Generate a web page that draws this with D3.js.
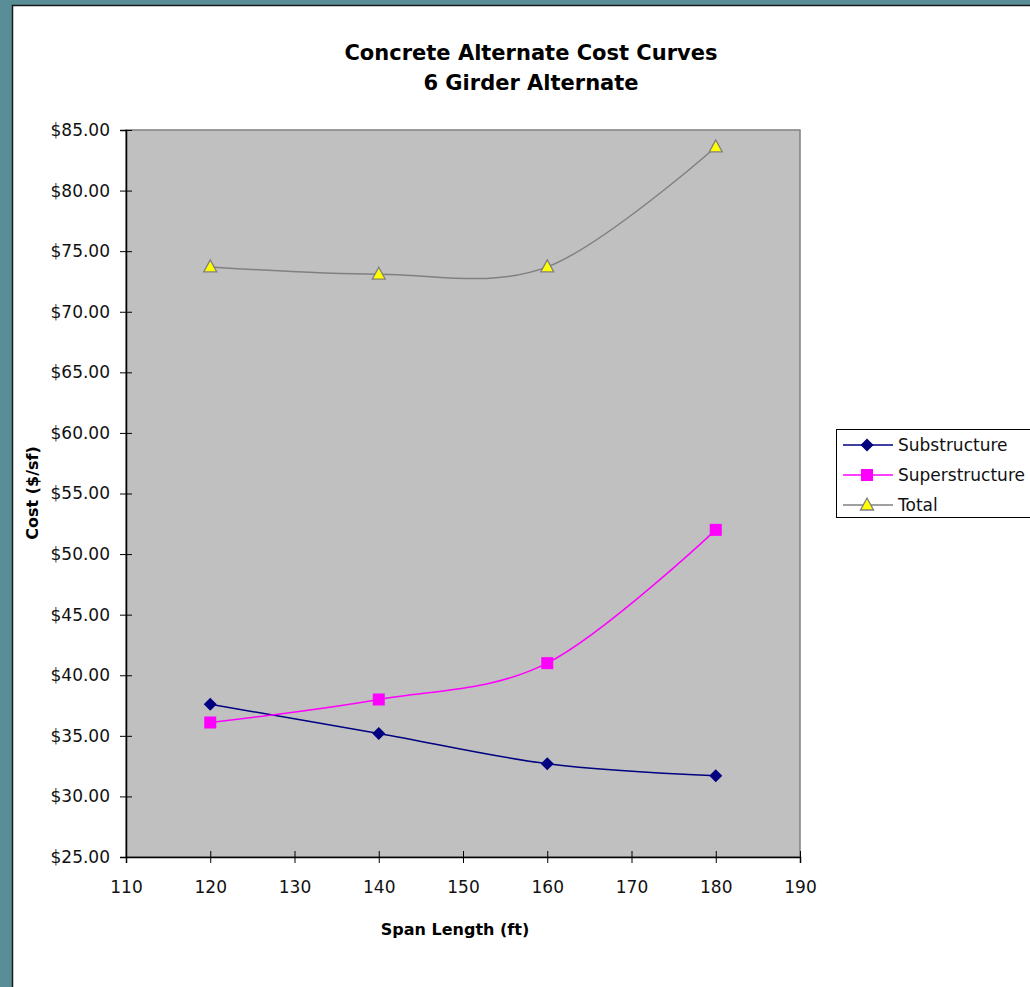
<!DOCTYPE html>
<html><head><meta charset="utf-8">
<script src="https://cdn.jsdelivr.net/npm/d3@7"></script>
<style>body{margin:0;padding:0;background:#5a8e97;overflow:hidden}svg{display:block}</style>
</head><body>
<script>
const spans = [120, 140, 160, 180];
const substructure = [37.6, 35.2, 32.7, 31.7];
const superstructure = [36.1, 38.0, 41.0, 52.0];
const total = [73.7, 73.1, 73.7, 83.6];
const xTicks = [110, 120, 130, 140, 150, 160, 170, 180, 190];
const yTicks = [25, 30, 35, 40, 45, 50, 55, 60, 65, 70, 75, 80, 85];
const seriesNames = ["Substructure", "Superstructure", "Total"];

const W = 1030, H = 987;
const font = "DejaVu Sans, Verdana, sans-serif";
const svg = d3.select("body").append("svg").attr("width", W).attr("height", H);

// teal frame
svg.append("rect").attr("x",0).attr("y",0).attr("width",W).attr("height",H).attr("fill","#5a8e97");
svg.append("rect").attr("x",12.5).attr("y",5.5).attr("width",W).attr("height",H).attr("fill","#fff").attr("stroke","#1a1a1a").attr("stroke-width",1.5);

const x = d3.scaleLinear().domain([110,190]).range([126,800]);
const y = d3.scaleLinear().domain([25,85]).range([857,130]);

svg.append("rect").attr("x",126).attr("y",130).attr("width",674).attr("height",727)
  .attr("fill","#c0c0c0").attr("stroke","#808080").attr("stroke-width",1.5);

// axes
const gx = svg.append("g").attr("transform","translate(0,857)")
  .call(d3.axisBottom(x).tickValues(xTicks).tickSize(6).tickPadding(18).tickFormat(d3.format("d")));
const gy = svg.append("g").attr("transform","translate(126,0)")
  .call(d3.axisLeft(y).tickValues(yTicks).tickSize(6).tickPadding(10).tickFormat(d=>"$"+d3.format(".2f")(d)));
[gx,gy].forEach(g=>{
  g.select(".domain").attr("stroke","#000").attr("stroke-width",1.5);
  g.selectAll(".tick line").attr("stroke","#000");
  g.selectAll("text").attr("font-family",font).attr("font-size",17).attr("fill","#111");
});
gx.selectAll(".tick line").attr("y1",-6);
gy.selectAll(".tick line").attr("x1",6);

const series = [
  {name: seriesNames[0], vals: substructure, color: "#000080", marker: "diamond"},
  {name: seriesNames[1], vals: superstructure, color: "#ff00ff", marker: "square"},
  {name: seriesNames[2], vals: total, color: "#808080", marker: "triangle"}
];
const line = d3.line().x(d=>x(d[0])).y(d=>y(d[1])).curve(d3.curveCatmullRom.alpha(0));

function diamondPath(cx,cy,r){return `M${cx},${cy-r}L${cx+r},${cy}L${cx},${cy+r}L${cx-r},${cy}Z`;}
function drawMarker(g, type, cx, cy){
  if(type==="diamond"){
    g.append("path").attr("d",diamondPath(cx,cy,6.5)).attr("fill","#000080");
  } else if(type==="square"){
    g.append("rect").attr("x",cx-6).attr("y",cy-6).attr("width",12).attr("height",12).attr("fill","#ff00ff");
  } else {
    g.append("path").attr("d",`M${cx},${cy-7}L${cx+6.5},${cy+5}L${cx-6.5},${cy+5}Z`)
     .attr("fill","#ffff00").attr("stroke","#808080").attr("stroke-width",1.3);
  }
}

series.forEach(s=>{
  const pts = spans.map((v,i)=>[v,s.vals[i]]);
  svg.append("path").attr("d",line(pts)).attr("fill","none").attr("stroke",s.color).attr("stroke-width",1.5);
  const g = svg.append("g");
  pts.forEach(p=>drawMarker(g,s.marker,x(p[0]),y(p[1])));
});

// titles
svg.append("text").attr("x",531).attr("y",60).attr("text-anchor","middle").attr("font-family",font)
  .attr("font-weight","bold").attr("font-size",21).text("Concrete Alternate Cost Curves");
svg.append("text").attr("x",531).attr("y",90).attr("text-anchor","middle").attr("font-family",font)
  .attr("font-weight","bold").attr("font-size",21).text("6 Girder Alternate");
svg.append("text").attr("x",455).attr("y",935).attr("text-anchor","middle").attr("font-family",font)
  .attr("font-weight","bold").attr("font-size",16).text("Span Length (ft)");
svg.append("text").attr("transform","translate(38,493) rotate(-90)").attr("text-anchor","middle").attr("font-family",font)
  .attr("font-weight","bold").attr("font-size",16).text("Cost ($/sf)");

// legend
const lg = svg.append("g");
lg.append("rect").attr("x",836.5).attr("y",429.5).attr("width",220).attr("height",88)
  .attr("fill","#fff").attr("stroke","#000").attr("stroke-width",1);
series.forEach((s,i)=>{
  const ly = 445 + i*30;
  lg.append("line").attr("x1",843).attr("x2",893).attr("y1",ly).attr("y2",ly).attr("stroke",s.color).attr("stroke-width",1.5);
  drawMarker(lg,s.marker,867,ly);
  lg.append("text").attr("x",898).attr("y",ly+6).attr("font-family",font).attr("font-size",17).attr("fill","#111").text(s.name);
});
</script>
</body></html>
